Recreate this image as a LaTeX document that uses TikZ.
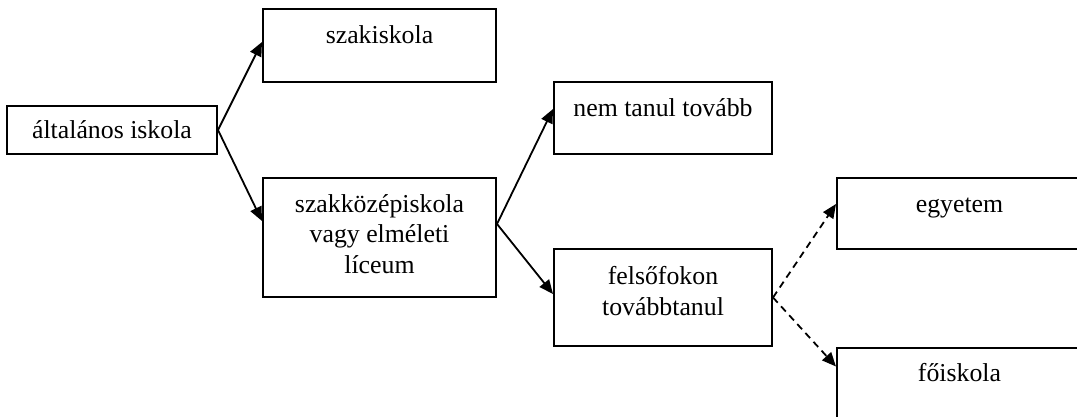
\documentclass[tikz,border=0pt]{standalone}
\usepackage{fontspec}
\setmainfont{Liberation Serif}
\usetikzlibrary{arrows.meta}
\tikzset{
  box/.style={draw, line width=2pt, inner sep=0pt},
  lbl/.style={anchor=base, align=center, inner sep=0pt, font=\fontsize{25.8}{30.5}\selectfont},
  conn/.style={line width=1.8pt, -{Triangle[length=14pt,width=12pt]}},
  dconn/.style={conn, dash pattern=on 7pt off 5pt}
}
\begin{document}
\begin{tikzpicture}[x=1pt,y=-1pt]
\useasboundingbox (0,0) rectangle (1077,417);
\clip (0,0) rectangle (1077,417);
\fill[white] (0,0) rectangle (1077,417);
% boxes
\node[box, minimum width=210pt, minimum height=48pt] (alt) at (112,130) {};
\node[box, minimum width=233pt, minimum height=73pt] (szak) at (379.5,45.5) {};
\node[box, minimum width=233pt, minimum height=119pt] (szkoz) at (379.5,237.5) {};
\node[box, minimum width=218pt, minimum height=72pt] (nem) at (663,118) {};
\node[box, minimum width=218pt, minimum height=97pt] (fel) at (663,297.5) {};
\node[box, minimum width=245pt, minimum height=71pt] (egy) at (959.5,213.5) {};
\node[box, minimum width=245pt, minimum height=73pt] (foi) at (959.5,384) {};
% labels (base anchor = baseline of the last line)
\node[lbl] (altT) at ([yshift=-34pt]alt.north) {általános iskola};
\node[lbl] (szakT) at ([yshift=-36pt]szak.north) {szakiskola};
\node[lbl] (szkozT) at ([yshift=-96pt]szkoz.north) {szakközépiskola\\vagy elméleti\\líceum};
\node[lbl] (nemT) at ([yshift=-36pt]nem.north) {nem tanul tovább};
\node[lbl] (felT) at ([yshift=-67pt]fel.north) {felsőfokon\\továbbtanul};
\node[lbl] (egyT) at ([yshift=-35pt]egy.north) {egyetem};
\node[lbl] (foiT) at ([yshift=-35pt]foi.north) {főiskola};
% connectors
\draw[conn] (alt.east) -- ([yshift=-34pt]szak.north west);
\draw[conn] (alt.east) -- ([yshift=-44pt]szkoz.north west);
\draw[conn] ([yshift=-47pt]szkoz.north east) -- ([yshift=-28pt]nem.north west);
\draw[conn] ([yshift=-47pt]szkoz.north east) -- ([yshift=-46pt]fel.north west);
\draw[dconn] (fel.east) -- ([yshift=-27pt]egy.north west);
\draw[dconn] (fel.east) -- ([yshift=-20pt]foi.north west);
\end{tikzpicture}
\end{document}
